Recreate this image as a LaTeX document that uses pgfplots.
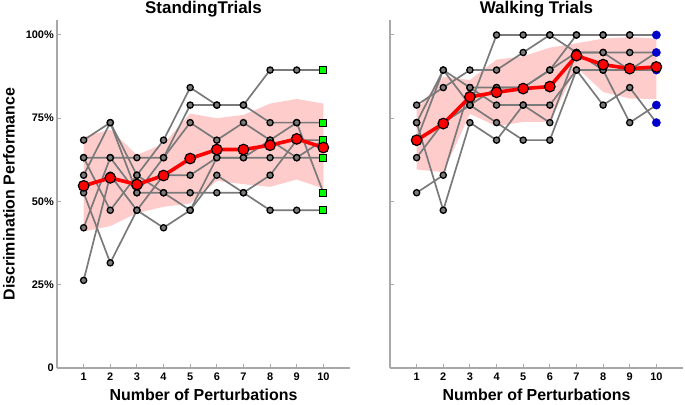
\documentclass[border=0pt]{standalone}
\usepackage{pgfplots}
\pgfplotsset{compat=1.18}
\usepackage{fontspec}
\setmainfont{Liberation Sans}
\definecolor{bandpink}{HTML}{FFCCCC}
\definecolor{subjgray}{HTML}{7A7A7A}
\definecolor{axgray}{HTML}{A8A8A8}
\definecolor{mgreen}{HTML}{00FF00}
\definecolor{mblue}{HTML}{0000CC}
\pgfplotsset{
  panel/.style={
    scale only axis, width=293bp, height=348bp,
    xmin=0, xmax=11, ymin=0, ymax=104.5,
    axis x line*=bottom, axis y line*=left,
    axis line style={axgray, line width=1.3bp},
    xtick={1,2,3,4,5,6,7,8,9,10}, ytick={0,25,50,75,100},
    tick style={axgray, line width=1bp},
    major tick length=4bp, tick align=inside,
    /pgf/number format/assume math mode=true,
    xticklabel style={font=\fontsize{11}{13}\selectfont\bfseries, anchor=base, yshift=-12.5bp},
    yticklabel style={font=\fontsize{11}{13}\selectfont\bfseries, anchor=east, inner sep=0pt, xshift=-3bp},
    every axis title/.style={at={(axis description cs:0.5,1.0187)}, anchor=base, font=\fontsize{17}{20}\selectfont\bfseries},
    every axis x label/.style={at={(axis description cs:0.5,-0.0948)}, anchor=base, font=\fontsize{16}{19}\selectfont\bfseries},
    every axis y label/.style={at={(axis description cs:-0.145,0.5)}, rotate=90, anchor=base, font=\fontsize{16}{19}\selectfont\bfseries},
    clip=false,
  },
  subj/.style={subjgray, line width=1.7bp, mark=*, mark size=3.1bp,
    mark options={fill=subjgray, draw=black, line width=1.3bp, solid},
    mark indices={1,2,3,4,5,6,7,8,9}},
  band/.style={fill=bandpink, draw=none},
  meanline/.style={red, line width=3.6bp, mark=*, mark size=5.3bp,
    mark options={fill=red, draw=black, line width=1.2bp}},
  endgreen/.style={only marks, mark=square*, mark size=3.4bp,
    mark options={fill=mgreen, draw=black, line width=1bp}},
  endblue/.style={only marks, mark=*, mark size=4.2bp,
    mark options={fill=mblue, draw=mblue, line width=0.3bp}},
}
\begin{document}
\begin{tikzpicture}
\useasboundingbox (-57bp,-37bp) rectangle (628bp,368bp);
% ---------------- Standing ----------------
\begin{axis}[panel, title={StandingTrials}, xlabel={Number of Perturbations},
  ylabel={Discrimination Performance},
  yticklabels={0,25\%,50\%,75\%,100\%}]
\addplot[band] coordinates {(1,69.4)(2,71.6)(3,64.0)(4,67.3)(5,76.4)(6,75.0)(7,76.0)(8,79.4)(9,80.8)(10,79.4)
  (10,53.9)(9,56.6)(8,54.4)(7,55.2)(6,56.2)(5,49.4)(4,48.4)(3,46.5)(2,42.6)(1,41.0)} -- cycle;
\addplot[subj] coordinates {(1,68.42)(2,73.68)(3,57.89)(4,68.42)(5,84.21)(6,78.95)(7,78.95)(8,89.47)(9,89.47)(10,89.47)};
\addplot[subj] coordinates {(1,63.16)(2,63.16)(3,63.16)(4,63.16)(5,78.95)(6,78.95)(7,78.95)(8,73.68)(9,73.68)(10,73.68)};
\addplot[subj] coordinates {(1,57.89)(2,73.68)(3,52.63)(4,63.16)(5,73.68)(6,68.42)(7,73.68)(8,68.42)(9,63.16)(10,68.42)};
\addplot[subj] coordinates {(1,26.32)(2,57.89)(3,47.37)(4,57.89)(5,57.89)(6,63.16)(7,63.16)(8,63.16)(9,63.16)(10,63.16)};
\addplot[subj] coordinates {(1,52.63)(2,31.58)(3,47.37)(4,42.11)(5,47.37)(6,57.89)(7,52.63)(8,57.89)(9,68.42)(10,68.42)};
\addplot[subj] coordinates {(1,42.11)(2,63.16)(3,52.63)(4,52.63)(5,52.63)(6,52.63)(7,52.63)(8,47.37)(9,47.37)(10,47.37)};
\addplot[subj] coordinates {(1,63.16)(2,47.37)(3,57.89)(4,52.63)(5,47.37)(6,63.16)(7,63.16)(8,68.42)(9,73.68)(10,52.63)};
\addplot[endgreen] coordinates {(10,89.47)(10,73.68)(10,68.42)(10,63.16)(10,52.63)(10,47.37)};
\addplot[meanline] coordinates {(1,54.7)(2,57.1)(3,55.1)(4,57.8)(5,62.9)(6,65.6)(7,65.6)(8,66.9)(9,68.8)(10,66.2)};
\end{axis}
% ---------------- Walking ----------------
\begin{axis}[panel, at={(333bp,0)}, title={Walking Trials}, xlabel={Number of Perturbations},
  yticklabels={}]
\addplot[band] coordinates {(1,77.5)(2,87.5)(3,86.5)(4,92.6)(5,93.6)(6,96.2)(7,97.5)(8,98.9)(9,99.4)(10,98.9)
  (10,80.8)(9,80.9)(8,82.9)(7,90.3)(6,73.9)(5,73.9)(4,72.6)(3,76.3)(2,58.8)(1,59.6)} -- cycle;
\addplot[subj] coordinates {(1,73.68)(2,89.47)(3,78.95)(4,100)(5,100)(6,100)(7,100)(8,100)(9,100)(10,100)};
\addplot[subj] coordinates {(1,78.95)(2,84.21)(3,89.47)(4,89.47)(5,94.74)(6,100)(7,94.74)(8,94.74)(9,94.74)(10,94.74)};
\addplot[subj] coordinates {(1,68.42)(2,89.47)(3,84.21)(4,84.21)(5,84.21)(6,89.47)(7,100)(8,100)(9,100)(10,100)};
\addplot[subj] coordinates {(1,63.16)(2,73.68)(3,78.95)(4,73.68)(5,68.42)(6,68.42)(7,89.47)(8,89.47)(9,89.47)(10,89.47)};
\addplot[subj] coordinates {(1,52.63)(2,57.89)(3,84.21)(4,78.95)(5,78.95)(6,78.95)(7,89.47)(8,78.95)(9,84.21)(10,73.68)};
\addplot[subj] coordinates {(1,73.68)(2,47.37)(3,73.68)(4,68.42)(5,78.95)(6,73.68)(7,94.74)(8,89.47)(9,73.68)(10,78.95)};
\addplot[subj] coordinates {(1,68.42)(2,73.68)(3,78.95)(4,84.21)(5,84.21)(6,89.47)(7,94.74)(8,94.74)(9,89.47)(10,94.74)};
\addplot[endblue] coordinates {(10,100)(10,94.74)(10,89.47)(10,78.95)(10,73.68)};
\addplot[meanline] coordinates {(1,68.4)(2,73.4)(3,81.4)(4,82.8)(5,83.9)(6,84.5)(7,93.8)(8,91.1)(9,89.9)(10,90.4)};
\end{axis}
\end{tikzpicture}
\end{document}
